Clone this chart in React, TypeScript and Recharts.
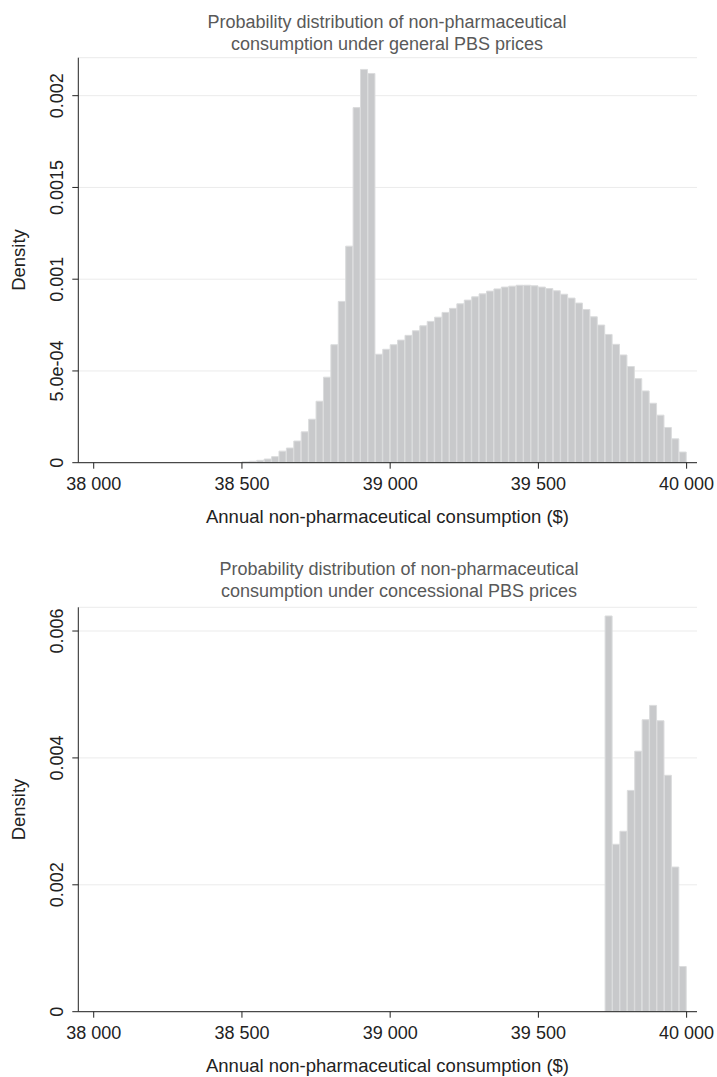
import React from 'react';
import { BarChart, Bar, XAxis, YAxis, CartesianGrid } from 'recharts';

// bin lower edges ($), bin width 25
const generalBinStart = [
  38500, 38525, 38550, 38575, 38600, 38625, 38650, 38675, 38700, 38725,
  38750, 38775, 38800, 38825, 38850, 38875, 38900, 38925, 38950, 38975,
  39000, 39025, 39050, 39075, 39100, 39125, 39150, 39175, 39200, 39225,
  39250, 39275, 39300, 39325, 39350, 39375, 39400, 39425, 39450, 39475,
  39500, 39525, 39550, 39575, 39600, 39625, 39650, 39675, 39700, 39725,
  39750, 39775, 39800, 39825, 39850, 39875, 39900, 39925, 39950, 39975,
];
const generalDensity = [
  0.000005, 0.000008, 0.000013, 0.00002, 0.000033, 0.000063, 0.00008, 0.000118, 0.000168, 0.000237,
  0.000335, 0.000466, 0.000643, 0.000879, 0.00118, 0.001935, 0.002143, 0.002121, 0.000591, 0.000618,
  0.000643, 0.000668, 0.000694, 0.000719, 0.000746, 0.00077, 0.000793, 0.000819, 0.000841, 0.000866,
  0.000886, 0.000904, 0.00092, 0.000935, 0.000947, 0.000957, 0.000962, 0.000967, 0.000967, 0.000964,
  0.000957, 0.000949, 0.000937, 0.000918, 0.000897, 0.00087, 0.000835, 0.000795, 0.00075, 0.000699,
  0.000645, 0.000587, 0.000524, 0.000458, 0.000391, 0.000324, 0.000259, 0.000192, 0.00013, 0.000058,
];

const concessionalBinStart = [39725, 39750, 39775, 39800, 39825, 39850, 39875, 39900, 39925, 39950, 39975];
const concessionalDensity = [
  0.006237, 0.002639, 0.002844, 0.003488, 0.004106, 0.004602, 0.004828, 0.004586, 0.003726, 0.00228, 0.000712,
];

const BIN_WIDTH = 25;

const xTicks = [38000, 38500, 39000, 39500, 40000];
const xTickLabels = ['38 000', '38 500', '39 000', '39 500', '40 000'];

const generalYTicks = [0, 0.0005, 0.001, 0.0015, 0.002];
const generalYLabels = ['0', '5.0e-04', '0.001', '0.0015', '0.002'];

const concessionalYTicks = [0, 0.002, 0.004, 0.006];
const concessionalYLabels = ['0', '0.002', '0.004', '0.006'];

const FONT = '"Liberation Sans", Arial, Helvetica, sans-serif';
const INK = '#222';
const TITLE_INK = '#595959';

type HistProps = {
  binStart: number[];
  density: number[];
  yMax: number;
  yTicks: number[];
  yLabels: string[];
  top: number;
  height: number;
  marginTop: number;
  marginBottom: number;
};

function Histogram({ binStart, density, yMax, yTicks, yLabels, top, height, marginTop, marginBottom }: HistProps) {
  const rows = binStart.map((b, i) => ({ mid: b + BIN_WIDTH / 2, density: density[i] }));

  const XTick = ({ x, y, payload }: any) => {
    const i = xTicks.indexOf(payload.value);
    return (
      <text x={x} y={y} dy={19.3} textAnchor="middle" fontSize={18} fill={INK} fontFamily={FONT}>
        {xTickLabels[i]}
      </text>
    );
  };

  const YTick = ({ x, y, payload }: any) => {
    const i = yTicks.indexOf(payload.value);
    const bx = x - 6.8;
    return (
      <text
        x={bx}
        y={y}
        transform={`rotate(-90, ${bx}, ${y})`}
        textAnchor="middle"
        fontSize={18}
        fill={INK}
        fontFamily={FONT}
      >
        {yLabels[i]}
      </text>
    );
  };

  return (
    <div style={{ position: 'absolute', left: 0, top, width: 717, height }}>
      <BarChart
        width={717}
        height={height}
        data={rows}
        barCategoryGap={0}
        barGap={0}
        margin={{ top: marginTop, right: 20, bottom: marginBottom, left: 0 }}
      >
        <CartesianGrid horizontal vertical={false} stroke="#ebebeb" />
        <XAxis
          dataKey="mid"
          type="number"
          domain={[37948, 40035]}
          ticks={xTicks}
          allowDataOverflow
          height={30}
          tickSize={6}
          tickMargin={2}
          tick={<XTick />}
          axisLine={{ stroke: INK }}
          tickLine={{ stroke: INK }}
        />
        <YAxis
          type="number"
          domain={[0, yMax]}
          ticks={yTicks}
          allowDataOverflow
          width={78.3}
          tickSize={6}
          tickMargin={2}
          tick={<YTick />}
          axisLine={{ stroke: INK }}
          tickLine={{ stroke: INK }}
        />
        <Bar dataKey="density" fill="#c8c9cb" stroke="#dbdcdd" strokeWidth={1} isAnimationActive={false} />
      </BarChart>
    </div>
  );
}

export default function App() {
  return (
    <div style={{ position: 'absolute', left: 0, top: 0, width: 717, height: 1077, background: '#fff' }}>
      <Histogram
        binStart={generalBinStart}
        density={generalDensity}
        yMax={0.002207}
        yTicks={generalYTicks}
        yLabels={generalYLabels}
        top={0}
        height={540}
        marginTop={57.7}
        marginBottom={47.3}
      />
      <Histogram
        binStart={concessionalBinStart}
        density={concessionalDensity}
        yMax={0.006374}
        yTicks={concessionalYTicks}
        yLabels={concessionalYLabels}
        top={540}
        height={537}
        marginTop={67.3}
        marginBottom={35.3}
      />
      <svg
        width={717}
        height={1077}
        style={{ position: 'absolute', left: 0, top: 0, pointerEvents: 'none' }}
        fontFamily={FONT}
      >
        <text x={387} y={28} textAnchor="middle" fontSize={18} fill={TITLE_INK}>
          Probability distribution of non-pharmaceutical
        </text>
        <text x={387} y={50} textAnchor="middle" fontSize={18} fill={TITLE_INK}>
          consumption under general PBS prices
        </text>
        <text x={387.5} y={522.5} textAnchor="middle" fontSize={18.5} fill={INK}>
          Annual non-pharmaceutical consumption ($)
        </text>
        <text x={25} y={260} transform="rotate(-90, 25, 260)" textAnchor="middle" fontSize={18.5} fill={INK}>
          Density
        </text>

        <text x={399} y={575} textAnchor="middle" fontSize={18} fill={TITLE_INK}>
          Probability distribution of non-pharmaceutical
        </text>
        <text x={399} y={597} textAnchor="middle" fontSize={18} fill={TITLE_INK}>
          consumption under concessional PBS prices
        </text>
        <text x={387.5} y={1071.5} textAnchor="middle" fontSize={18.5} fill={INK}>
          Annual non-pharmaceutical consumption ($)
        </text>
        <text x={25} y={809.5} transform="rotate(-90, 25, 809.5)" textAnchor="middle" fontSize={18.5} fill={INK}>
          Density
        </text>
      </svg>
    </div>
  );
}
